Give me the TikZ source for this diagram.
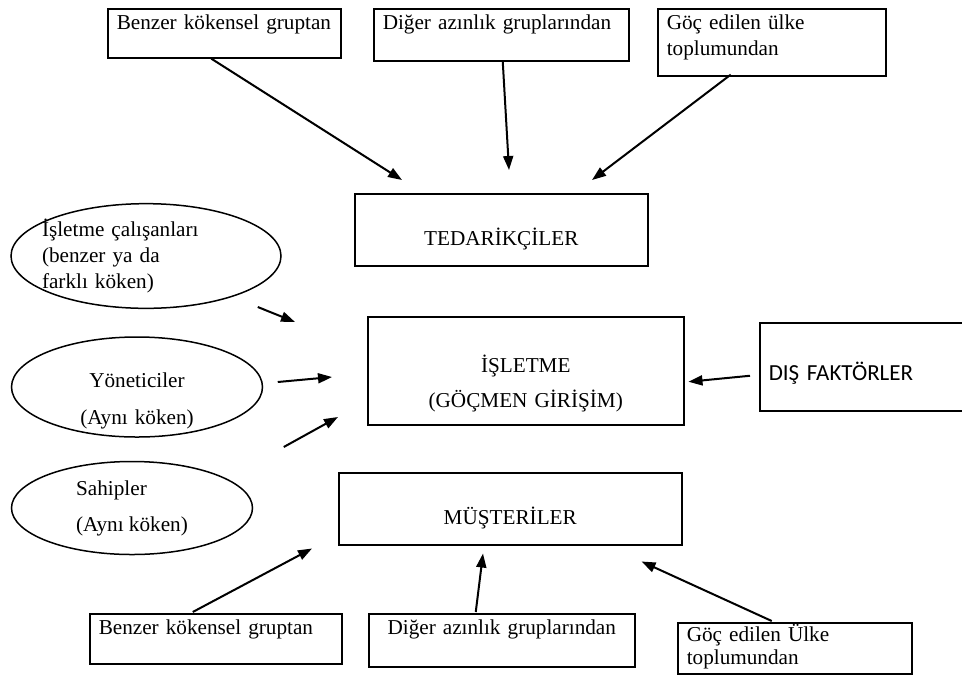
\documentclass[tikz,border=0pt]{standalone}
\usepackage{fontspec}
\setmainfont{Liberation Serif}
\newfontfamily\calibrifont{Carlito}
\usetikzlibrary{shapes.geometric}
\usetikzlibrary{arrows.meta}

\begin{document}
\begin{tikzpicture}[x=0.5pt,y=-0.5pt,font=\fontsize{10.6}{13}\selectfont,
   grp/.style={draw,line width=0.75pt,anchor=north west,align=left,inner xsep=4.5pt,inner ysep=3pt},
   kutu/.style={draw,line width=0.75pt,anchor=north west,align=center},
   oval/.style={draw,ellipse,line width=0.75pt,inner sep=0pt},
   ok/.style={-{Triangle[length=7pt,width=5pt]},line width=1pt}]
   \useasboundingbox (0,0) rectangle (962,675);
   \node[grp,text width=107.5pt,text depth=11.2pt] (ust1) at (107,8) {Benzer kökensel gruptan};
   \node[grp,text width=118.5pt,text depth=12.7pt] (ust2) at (373,8) {Diğer azınlık gruplarından};
   \node[grp,text width=105pt,text depth=20.2pt] (ust3) at (657,8) {Göç edilen ülke\\toplumundan};
   \node[kutu,minimum width=146.5pt,minimum height=36pt,text height=16pt,text depth=0pt] (ted) at (354,193) {TEDARİKÇİLER};
   \node[kutu,minimum width=158pt,minimum height=54pt,text width=120pt,text height=21pt] (isl) at (367,316) {İŞLETME\\[4.5pt](GÖÇMEN GİRİŞİM)};
   \node[grp,text width=96pt,minimum height=44pt,text height=14pt,text depth=0pt,font=\calibrifont\fontsize{11.5}{14}\selectfont] (dis) at (759,322) {DIŞ FAKTÖRLER};
   \node[kutu,minimum width=171.5pt,minimum height=36pt,text height=16pt,text depth=0pt] (mus) at (338,472) {MÜŞTERİLER};
   \node[oval,minimum width=135pt,minimum height=51.5pt,text width=104pt,inner xsep=-5pt,align=left] (calis) at (146,256) {İşletme çalışanları\\(benzer ya da\\farklı köken)};
   \node[oval,minimum width=125.5pt,minimum height=50pt,text width=70pt,text height=21pt,inner ysep=-6pt,align=center] (yonet) at (137,387) {Yöneticiler\\[5.5pt](Aynı köken)};
   \node[oval,minimum width=120.5pt,minimum height=46.5pt,align=left] (sahip) at (132,508) {Sahipler\\[5pt](Aynı köken)};
   \node[grp,text width=117pt,text depth=11.7pt] (alt1) at (89,613) {Benzer kökensel gruptan};
   \node[grp,text width=124pt,text depth=13.2pt,align=center] (alt2) at (368,613) {Diğer azınlık gruplarından};
   \node[grp,text width=108pt,inner ysep=1pt,text depth=15pt,font=\fontsize{10.6}{11.5}\selectfont] (alt3) at (677,622) {Göç edilen Ülke\\toplumundan};
   \path[ok]
   ([shift={(-13,0)}]ust1.south) edge ([shift={(48,-13)}]ted.north west)
   ([shift={(1.5,0)}]ust2.south) edge ([shift={(155,-23)}]ted.north west)
   ([shift={(-41,-2)}]ust3.south) edge ([shift={(238,-13)}]ted.north west)
   ([shift={(-24,51)}]calis.east) edge ([shift={(-72,6)}]isl.north west)
   ([shift={(14.5,-5)}]yonet.east) edge ([shift={(-35,61)}]isl.north west)
   ([shift={(30.5,-61)}]sahip.east) edge ([shift={(-29,101)}]isl.north west)
   ([shift={(-9,9)}]dis.west) edge ([shift={(4,11)}]isl.east)
   ([shift={(-23,-1)}]alt1.north) edge ([shift={(-26,3)}]mus.south west)
   ([shift={(-26,-1)}]alt2.north) edge ([shift={(145,8)}]mus.south west)
   ([shift={(-23,-1)}]alt3.north) edge ([shift={(-41,16)}]mus.south east);
\end{tikzpicture}
\end{document}
